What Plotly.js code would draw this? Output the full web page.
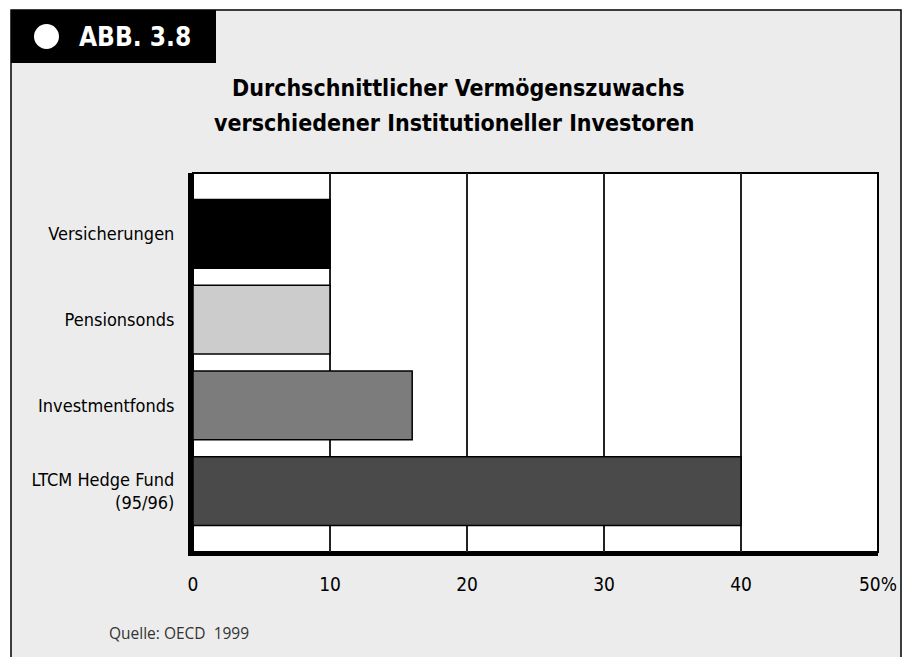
<!DOCTYPE html>
<html>
<head>
<meta charset="utf-8">
<script src="https://cdn.plot.ly/plotly-3.0.1.min.js"></script>
<style>
  html, body { margin: 0; padding: 0; background: white; }
  #chart { width: 902px; height: 657px; }
</style>
</head>
<body>
<div id="chart"></div>
<script>
// data (percent)
var categories = ['Versicherungen', 'Pensionsonds', 'Investmentfonds', 'LTCM Hedge Fund<br>(95/96)'];
var growth = [10, 10, 16, 40];
var barColors = ['#000000', '#cccccc', '#7c7c7c', '#4a4a4a'];
var tickVals = [0, 10, 20, 30, 40, 50];
var tickText = ['0', '10', '20', '30', '40', '50%'];
var titleLines = ['Durchschnittlicher Vermögenszuwachs', 'verschiedener Institutioneller Investoren'];

var W = 902, H = 657;
var M = { l: 193, r: 24, t: 173, b: 105 };
var plotW = W - M.l - M.r, plotH = H - M.t - M.b;

// pixel -> paper coords helpers for the frame decorations
function px(x) { return (x - M.l) / plotW; }
function py(y) { return (H - M.b - y) / plotH; }

var narrow = 'Liberation Sans Narrow, DejaVu Sans Condensed, Arial Narrow, sans-serif';

var trace = {
    type: 'bar',
    orientation: 'h',
    y: categories,
    x: growth,
    marker: {
        color: barColors,
        line: { color: '#000', width: 1.5 }
    },
    hoverinfo: 'skip'
};

var layout = {
    width: W,
    height: H,
    margin: M,
    paper_bgcolor: 'white',
    plot_bgcolor: 'white',
    showlegend: false,
    bargap: 0.2,
    xaxis: {
        range: [0, 50],
        tickvals: tickVals,
        ticktext: tickText,
        showgrid: true,
        gridcolor: '#222',
        gridwidth: 2,
        zeroline: false,
        showline: true,
        linecolor: '#000',
        linewidth: 4,
        ticks: '',
        ticklabelstandoff: 12,
        tickfont: { family: narrow, size: 19, color: '#000' },
        fixedrange: true
    },
    yaxis: {
        type: 'category',
        range: [3.71, -0.71],
        showgrid: false,
        zeroline: false,
        showline: true,
        linecolor: '#000',
        linewidth: 5,
        ticks: '',
        ticklabelstandoff: 10,
        tickfont: { family: narrow, size: 18, color: '#000' },
        fixedrange: true
    },
    shapes: [
        // grey panel with frame
        { type: 'rect', xref: 'paper', yref: 'paper', layer: 'below',
          x0: px(11), x1: px(901), y0: py(10), y1: py(670),
          fillcolor: '#ececec', line: { color: '#000', width: 1.5 } },
        // white plot area with thin frame
        { type: 'rect', xref: 'paper', yref: 'paper', layer: 'below',
          x0: 0, x1: 1, y0: 0, y1: 1,
          fillcolor: 'white', line: { color: '#000', width: 2 } },
        // black label box
        { type: 'rect', xref: 'paper', yref: 'paper', layer: 'above',
          x0: px(11), x1: px(216), y0: py(10), y1: py(63),
          fillcolor: '#000', line: { width: 0 } },
        // white dot
        { type: 'circle', xref: 'paper', yref: 'paper', layer: 'above',
          x0: px(34), x1: px(59), y0: py(24), y1: py(49),
          fillcolor: 'white', line: { width: 0 } }
    ],
    annotations: [
        { text: '<b>ABB. 3.8</b>', xref: 'paper', yref: 'paper',
          x: px(77), y: py(37), xanchor: 'left', yanchor: 'middle', showarrow: false,
          font: { family: narrow, size: 26, color: 'white' } },
        { text: '<b>' + titleLines[0] + '</b>',
          xref: 'paper', yref: 'paper', x: px(458), y: py(88),
          xanchor: 'center', yanchor: 'middle', showarrow: false,
          font: { family: narrow, size: 23, color: '#000' } },
        { text: '<b>' + titleLines[1] + '</b>',
          xref: 'paper', yref: 'paper', x: px(454), y: py(123),
          xanchor: 'center', yanchor: 'middle', showarrow: false,
          font: { family: narrow, size: 23, color: '#000' } },
        { text: 'Quelle: OECD  1999', xref: 'paper', yref: 'paper',
          x: px(107), y: py(633), xanchor: 'left', yanchor: 'middle', showarrow: false,
          font: { family: 'Open Sans, sans-serif', size: 15.5, color: '#333' } }
    ]
};

Plotly.newPlot('chart', [trace], layout, { displayModeBar: false, staticPlot: true });
</script>
</body>
</html>
